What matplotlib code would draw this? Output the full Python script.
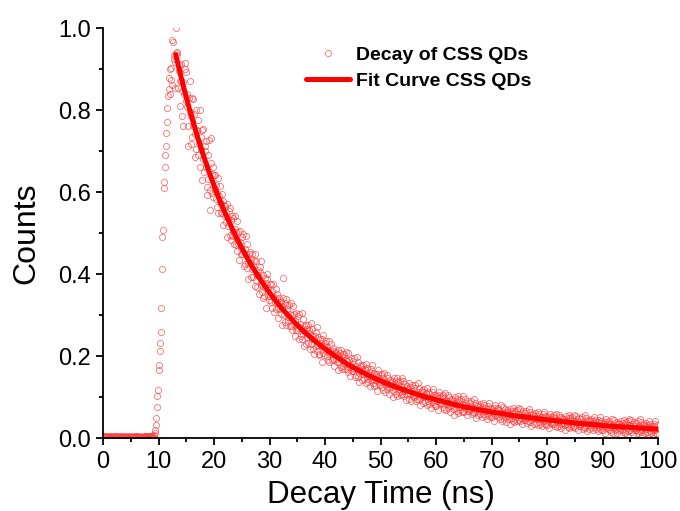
import numpy as np
import matplotlib
matplotlib.use("Agg")
import matplotlib.pyplot as plt

# ---- data ----
time_step_ns = 0.1
# measured decay counts, normalised, in units of 1/1000 ; one row = 1 ns (10 channels)
decay_counts_permille = [
    3,5,2,4,6,3,2,5,4,3,
    4,2,5,3,3,6,4,2,3,5,
    2,4,3,5,4,2,6,3,4,3,
    5,3,4,2,5,4,3,6,2,4,
    3,4,2,5,3,4,5,3,4,2,
    4,3,5,3,2,4,3,5,4,6,
    3,5,4,2,4,3,5,4,3,4,
    4,2,3,5,4,6,3,4,5,3,
    5,4,3,4,6,4,5,3,4,6,
    4,6,9,14,21,33,50,77,104,118,
    166,179,212,232,259,318,412,490,507,610,
    624,662,690,712,745,770,805,835,877,852,
    840,900,873,902,862,970,965,925,935,853,
    918,940,1000,941,935,853,910,895,872,810,
    870,912,846,785,868,760,838,900,914,822,
    893,808,840,760,712,830,795,870,718,786,
    735,830,760,828,790,742,686,800,706,752,
    748,690,775,720,662,800,735,704,630,752,
    755,680,648,712,701,662,725,613,593,690,
    632,728,605,556,671,733,645,598,660,589,
    641,605,642,583,617,564,598,635,548,590,
    576,616,550,571,596,550,519,579,568,542,
    567,526,551,490,572,537,518,553,495,562,
    484,531,541,492,502,538,474,509,541,470,
    503,457,530,474,503,434,479,505,449,464,
    449,490,454,497,419,462,426,450,494,414,
    474,427,389,450,430,453,392,438,413,448,
    393,422,432,371,450,387,431,398,368,409,
    399,352,405,418,373,432,357,375,398,343,
    346,390,367,378,318,388,401,346,367,337,
    375,347,377,332,360,318,346,376,309,343,
    333,365,314,332,352,317,293,341,333,314,
    334,303,323,276,342,391,301,330,284,339,
    277,316,324,287,295,324,274,303,329,274,
    300,265,323,280,303,249,286,306,263,276,
    264,297,269,304,243,278,250,269,306,242,
    291,254,225,273,258,277,230,267,247,276,
    233,256,265,217,280,231,266,241,217,250,
    243,206,249,260,225,272,212,227,246,203,
    206,241,224,233,186,241,252,209,226,203,
    233,212,236,201,223,192,214,237,186,212,
    205,230,191,205,221,194,176,213,208,193,
    210,186,202,166,216,197,186,208,174,215,
    169,198,205,176,183,206,168,190,210,168,
    189,162,207,174,192,151,179,196,163,172,
    164,189,169,195,149,176,155,170,198,150,
    187,159,138,175,163,178,142,170,156,178,
    145,163,170,134,182,145,172,152,136,161,
    155,128,160,168,142,178,134,145,159,127,
    129,157,143,150,115,157,166,133,146,129,
    154,136,157,125,146,117,138,160,114,138,
    132,155,120,133,147,124,107,142,137,124,
    139,118,132,100,147,128,119,140,108,147,
    104,131,138,113,120,140,106,127,146,107,
    116,140,104,118,132,109,93,127,123,109,
    118,96,135,108,124,90,115,129,102,111,
    100,122,105,129,90,113,96,109,134,94,
    122,99,81,113,104,117,87,112,100,120,
    88,104,110,80,122,91,114,99,84,107,
    99,75,104,112,89,121,83,93,106,79,
    79,102,92,98,68,105,113,85,97,83,
    102,85,106,77,97,71,90,111,68,92,
    83,106,73,86,100,78,64,96,93,81,
    91,72,86,56,100,83,75,95,66,103,
    61,87,93,70,76,96,65,84,102,67,
    82,63,96,73,86,57,78,90,67,75,
    66,85,71,91,58,77,63,74,95,61,
    85,66,50,78,70,81,56,77,67,83,
    58,71,77,51,87,60,80,67,55,74,
    67,47,72,78,59,86,54,63,74,51,
    51,71,62,67,42,73,80,56,66,54,
    72,58,75,51,68,46,62,80,43,63,
    57,76,48,59,71,52,40,68,65,55,
    64,47,59,34,71,57,50,67,43,74,
    39,61,66,46,52,68,42,58,74,44,
    58,41,71,50,62,36,55,66,45,52,
    45,62,49,67,37,55,42,52,71,40,
    63,45,31,56,49,59,36,55,46,61,
    38,50,55,32,64,40,58,46,35,52,
    48,30,52,58,41,65,36,44,54,33,
    33,51,43,48,25,53,59,38,47,36,
    53,40,56,34,49,29,44,60,27,45,
    39,56,31,41,52,35,24,49,46,37,
    47,32,43,20,54,41,35,50,28,56,
    24,44,49,31,36,51,27,42,56,29,
    42,25,55,34,46,20,39,50,29,36,
    30,47,34,52,22,40,27,37,56,25,
    49,31,17,42,35,45,22,41,32,47,
    25,37,42,19,51,27,45,33,22,39,
    35,17,39,45,28,52,23,31,41,20,
    20,38,30,35,12,40,46,25,34,23,
    40,27,43,21,36,16,31,47,14,32,
    27,44,19,29,40,23,12,37,34,25,
    35,20,31,8,42,29,23,38,16,44,
    14,34,39,21,26,41,17,32,46,19,
    32,15,45,24,36,10,29,40,19,26,
    20,37,24,42,12,30,17,27,46,15,
    39,21,7,32,25,35,12,31,22,37,
    16,28,33,10,42,18,36,24,13,30,
    26,8,30,36,19,43,14,22,32,11,
]

fit_time = [13.1, 14, 15, 16, 17, 18, 19, 20, 21, 22, 23, 24, 25, 26, 27, 28, 29,
            30, 31, 32, 33, 34, 35, 36, 37, 38, 39, 40, 42, 44, 46, 48, 50, 52,
            54, 56, 58, 60, 62, 64, 66, 68, 70, 72, 74, 76, 78, 80, 82, 84, 86,
            88, 90, 92, 94, 96, 98, 100]
fit_counts = [0.935, 0.884, 0.831, 0.782, 0.736, 0.693, 0.653, 0.616, 0.581, 0.549,
              0.519, 0.490, 0.464, 0.439, 0.416, 0.394, 0.374, 0.355, 0.337, 0.320,
              0.305, 0.290, 0.276, 0.263, 0.251, 0.239, 0.228, 0.218, 0.199, 0.181,
              0.166, 0.152, 0.140, 0.129, 0.119, 0.110, 0.101, 0.094, 0.087, 0.080,
              0.074, 0.069, 0.064, 0.060, 0.055, 0.052, 0.048, 0.045, 0.042, 0.039,
              0.036, 0.034, 0.031, 0.029, 0.0275, 0.0256, 0.0239, 0.0223]

series_labels = ["Decay of CSS QDs", "Fit Curve CSS QDs"]
x_ticks = [0, 10, 20, 30, 40, 50, 60, 70, 80, 90, 100]
y_ticks = [0.0, 0.2, 0.4, 0.6, 0.8, 1.0]
x_label = "Decay Time (ns)"
y_label = "Counts"

# ---- plot ----
plt.rcParams['font.family'] = ['Liberation Sans', 'DejaVu Sans']

counts = np.array(decay_counts_permille) / 1000.0
decay_time = np.arange(len(counts)) * time_step_ns

fig = plt.figure(figsize=(6.8, 5.11), dpi=100)
ax = fig.add_axes([0.1515, 0.1423, 0.8162, 0.8029])

ax.plot(decay_time, counts, linestyle='none', marker='o', markersize=4.4,
        markerfacecolor='none', markeredgecolor='#ff4040', markeredgewidth=0.6,
        alpha=0.75, label=series_labels[0])
ax.plot(fit_time, fit_counts, color='#ff0000', linewidth=3.6,
        solid_capstyle='round', label=series_labels[1])

ax.set_xlim(0, 100)
ax.set_ylim(0, 1.0)
ax.set_xticks(x_ticks)
ax.set_yticks(y_ticks)
ax.set_xticklabels([str(v) for v in x_ticks])
ax.set_yticklabels([f"{v:.1f}" for v in y_ticks])
ax.set_xticks(np.array(x_ticks[:-1]) + 5, minor=True)
ax.set_yticks(np.array(y_ticks[:-1]) + 0.1, minor=True)

for s in ['top', 'right']:
    ax.spines[s].set_visible(False)
for s in ['left', 'bottom']:
    ax.spines[s].set_linewidth(1.3)
ax.tick_params(which='major', direction='out', length=5, width=1.3,
               labelsize=17, pad=4, colors='black')
ax.tick_params(which='minor', direction='out', length=3, width=1.3)

ax.set_xlabel(x_label, fontsize=22.5, labelpad=5)
ax.set_ylabel(y_label, fontsize=23, labelpad=12)

leg = ax.legend(loc='upper left', bbox_to_anchor=(306/680, 1 - 46/511),
                bbox_transform=fig.transFigure, frameon=False, numpoints=1,
                prop={'weight': 'bold', 'size': 14}, handlelength=2.25,
                handletextpad=0.3, labelspacing=0.45, borderpad=0, borderaxespad=0)

fig.savefig("out.png", dpi=100)
